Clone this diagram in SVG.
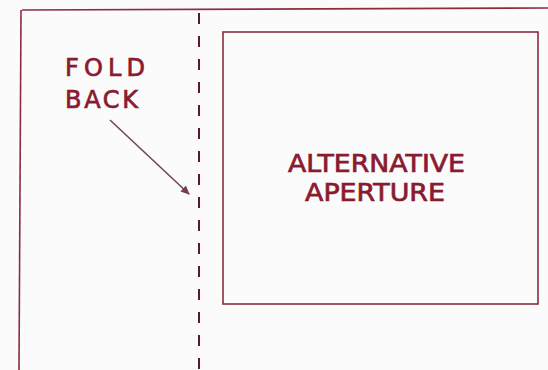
<svg xmlns="http://www.w3.org/2000/svg" width="548" height="370" viewBox="0 0 548 370">
<style>
.ln{fill:none;stroke:#8c2c3e;stroke-width:1.6}
.t{font-family:"DejaVu Sans","Liberation Sans",sans-serif;font-size:24px;fill:#8a1a30;stroke:#8a1a30;stroke-width:0.7}
</style>
<defs>
<marker id="ah" markerWidth="10" markerHeight="10" refX="8" refY="5" orient="auto" markerUnits="userSpaceOnUse">
<path d="M0,1 L9,5 L0,9 Z" fill="#7a3a55"/>
</marker>
</defs>
<rect width="548" height="370" fill="#fbfbfb"/>
<g id="sheet">
<path class="ln" d="M22,10 L548,8"/>
<path class="ln" d="M21,10 L19,370"/>
</g>
<g id="fold-line">
<path d="M199,13 L199,370" fill="none" stroke="#5a1a2a" stroke-width="2" stroke-dasharray="11,12"/>
</g>
<g id="aperture">
<rect class="ln" x="223" y="32" width="315" height="272"/>
<text class="t" x="288" y="172" textLength="177" lengthAdjust="spacingAndGlyphs">ALTERNATIVE</text>
<text class="t" x="305" y="201" textLength="140" lengthAdjust="spacingAndGlyphs">APERTURE</text>
</g>
<g id="fold-back">
<text class="t" x="65" y="76" textLength="80" lengthAdjust="spacing">FOLD</text>
<text class="t" x="65" y="108" textLength="73" lengthAdjust="spacing">BACK</text>
</g>
<g id="connectors">
<path d="M110,120 L189,194" fill="none" stroke="#6e4a58" stroke-width="1.6" marker-end="url(#ah)"/>
</g>
</svg>
